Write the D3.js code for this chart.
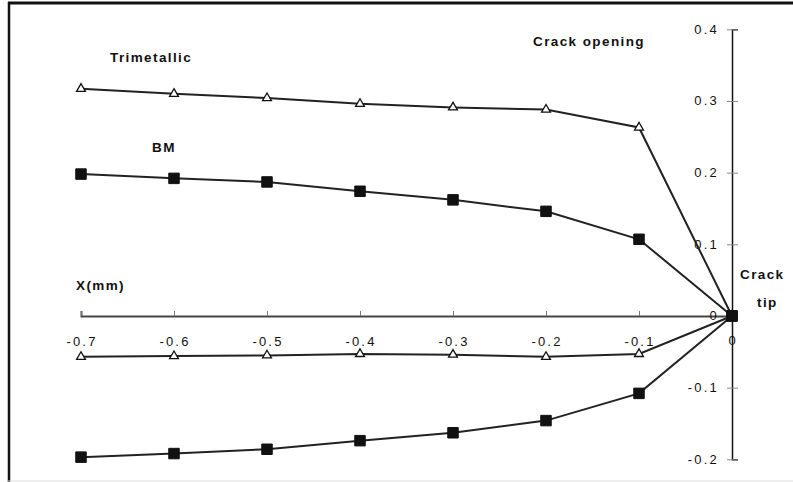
<!DOCTYPE html>
<html><head><meta charset="utf-8">
<script src="https://cdn.jsdelivr.net/npm/d3@7"></script>
<style>
html,body{margin:0;padding:0;background:#fff;}
svg{display:block;}
text{font-family:"Liberation Sans",Arial,sans-serif;fill:#111;}
</style></head>
<body>
<svg id="c" width="793" height="482"></svg>
<script>
const xValues = [-0.7, -0.6, -0.5, -0.4, -0.3, -0.2, -0.1, 0];
const trimetallicUpper = [0.317, 0.310, 0.304, 0.296, 0.291, 0.288, 0.263, 0];
const bmUpper = [0.198, 0.192, 0.187, 0.174, 0.162, 0.146, 0.107, 0];
const trimetallicLower = [-0.057, -0.056, -0.055, -0.053, -0.054, -0.057, -0.053, 0];
const bmLower = [-0.197, -0.192, -0.186, -0.174, -0.163, -0.146, -0.108, 0];
const xTicks = [-0.7, -0.6, -0.5, -0.4, -0.3, -0.2, -0.1];
const xTickLabels = ["-0.7", "-0.6", "-0.5", "-0.4", "-0.3", "-0.2", "-0.1"];
const yTicks = [0.4, 0.3, 0.2, 0.1, 0, -0.1, -0.2];
const yTickLabels = ["0.4", "0.3", "0.2", "0.1", "0", "-0.1", "-0.2"];

const svg = d3.select("#c");
const x = d3.scaleLinear().domain([-0.7, 0]).range([81, 732]);
const y = d3.scaleLinear().domain([-0.2, 0.4]).range([459.3, 29.3]);

// frame
svg.append("line").attr("x1", 8).attr("x2", 793).attr("y1", 3).attr("y2", 3).attr("stroke", "#111").attr("stroke-width", 3);
svg.append("line").attr("x1", 9).attr("x2", 9).attr("y1", 2).attr("y2", 482).attr("stroke", "#111").attr("stroke-width", 2.5);
svg.append("line").attr("x1", 8).attr("x2", 793).attr("y1", 481).attr("y2", 481).attr("stroke", "#ddd").attr("stroke-width", 1);

// x axis
const xAxis = svg.append("g").attr("transform", `translate(0,${y(0)})`)
  .call(d3.axisTop(x).tickValues(xTicks).tickSize(5).tickFormat(""));
xAxis.select(".domain").attr("stroke", "#444").attr("stroke-width", 2);
xAxis.selectAll(".tick line").attr("stroke", "#777").attr("stroke-width", 1);
svg.append("g").selectAll("text").data(xTicks).join("text")
  .attr("x", (d) => x(d) + 1).attr("y", y(0) + 30)
  .attr("text-anchor", "middle").attr("font-size", 13).attr("letter-spacing", 2.2)
  .text((d, i) => xTickLabels[i]);
svg.append("text").attr("x", x(0)).attr("y", y(0) + 29).attr("text-anchor", "middle")
  .attr("font-size", 13).attr("fill", "#777").text("0");

// y axis
const yAxis = svg.append("g").attr("transform", `translate(${x(0)},0)`)
  .call(d3.axisRight(y).tickValues(yTicks).tickSize(6).tickFormat(""));
yAxis.select(".domain").attr("stroke", "#111").attr("stroke-width", 1.5);
yAxis.selectAll(".tick line").attr("stroke", "#888").attr("stroke-width", 1).attr("x1", -5);
svg.append("g").selectAll("text").data(yTicks).join("text")
  .attr("x", x(0) - 13).attr("y", (d) => y(d) + 4.5)
  .attr("text-anchor", "end").attr("font-size", 13).attr("letter-spacing", 2.2)
  .text((d, i) => yTickLabels[i]);

// series
const line = d3.line().x((d) => x(d[0])).y((d) => y(d[1]));
const series = [
  {vals: trimetallicUpper, marker: "tri"},
  {vals: bmUpper, marker: "sq"},
  {vals: trimetallicLower, marker: "tri"},
  {vals: bmLower, marker: "sq"}
];
series.forEach((s) => {
  const pts = xValues.map((v, i) => [v, s.vals[i]]);
  svg.append("path").datum(pts).attr("d", line).attr("fill", "none")
    .attr("stroke", "#222").attr("stroke-width", 2);
  const sym = d3.symbol().type(s.marker === "tri" ? d3.symbolTriangle : d3.symbolSquare)
    .size(s.marker === "tri" ? 34 : 110);
  svg.append("g").selectAll("path").data(pts).join("path")
    .attr("transform", (d) => `translate(${x(d[0])},${y(d[1])})`)
    .attr("d", sym)
    .attr("fill", s.marker === "tri" ? "#fff" : "#111")
    .attr("stroke", "#111").attr("stroke-width", s.marker === "tri" ? 1.3 : 1);
});

// annotations
const ann = [
  {t: "Trimetallic", x: 110, y: 62},
  {t: "BM", x: 152, y: 152},
  {t: "Crack opening", x: 533, y: 46},
  {t: "X(mm)", x: 76, y: 290},
  {t: "Crack", x: 740, y: 279},
  {t: "tip", x: 757, y: 307}
];
svg.append("g").selectAll("text").data(ann).join("text")
  .attr("x", (d) => d.x).attr("y", (d) => d.y)
  .attr("font-size", 13.5).attr("font-weight", "bold").attr("letter-spacing", 1.4)
  .text((d) => d.t);
</script>
</body></html>
